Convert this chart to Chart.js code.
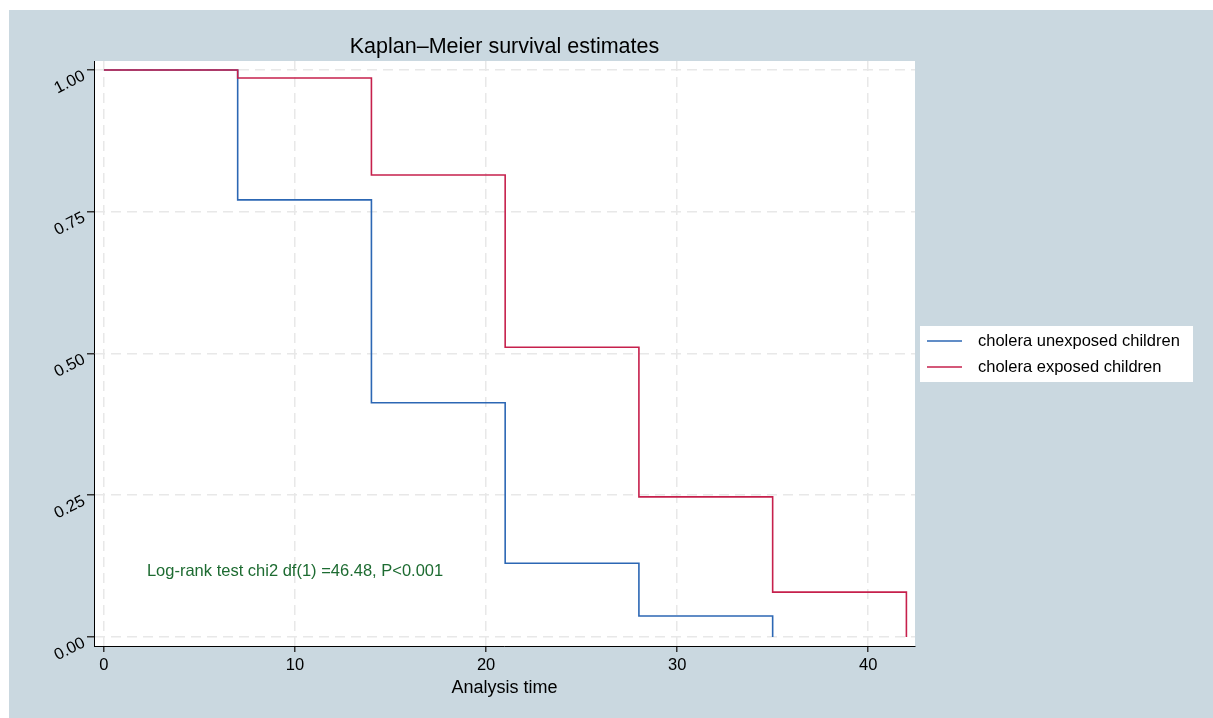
<!DOCTYPE html>
<html>
<head>
<meta charset="utf-8">
<script src="https://cdn.jsdelivr.net/npm/chart.js@4.4.1/dist/chart.umd.min.js"></script>
<style>
  html, body { margin: 0; padding: 0; background: #fff; }
  #wrap { width: 1213px; height: 718px; }
</style>
</head>
<body>
<div id="wrap"><canvas id="km" width="1213" height="718"></canvas></div>
<script>
// survival curves
const unexposedTime = [0, 7, 14, 21, 28, 35];
const unexposedSurv = [1, 0.771, 0.413, 0.130, 0.037, 0];
const exposedTime = [0, 7, 14, 21, 28, 35, 42];
const exposedSurv = [1, 0.986, 0.815, 0.511, 0.247, 0.079, 0];

const xTicks = [0, 10, 20, 30, 40];
const yTicks = [0, 0.25, 0.5, 0.75, 1];
const seriesNames = ['cholera unexposed children', 'cholera exposed children'];
const titleText = 'Kaplan–Meier survival estimates';
const xTitle = 'Analysis time';
const noteText = 'Log-rank test chi2 df(1) =46.48, P<0.001';

const FONT = "'Liberation Sans', Arial, sans-serif";
const BLUE = '#2c67b4';
const RED = '#c6204c';

function toPoints(xs, ys) {
  return xs.map((x, i) => ({ x: x, y: ys[i] }));
}

const backdrop = {
  id: 'backdrop',
  beforeDraw(chart) {
    const { ctx, chartArea: a } = chart;
    ctx.save();
    ctx.fillStyle = '#fff';
    ctx.fillRect(0, 0, chart.width, chart.height);
    ctx.fillStyle = '#cad8e0';
    ctx.fillRect(9, 10, chart.width - 9, chart.height - 10);
    ctx.fillStyle = '#fff';
    ctx.fillRect(a.left, a.top, a.right - a.left, a.bottom - a.top);
    ctx.restore();
  }
};

const extras = {
  id: 'extras',
  afterDraw(chart) {
    const { ctx, chartArea: a, scales } = chart;
    ctx.save();

    // title
    ctx.fillStyle = '#000';
    ctx.font = '21.5px ' + FONT;
    ctx.textAlign = 'center';
    ctx.textBaseline = 'middle';
    ctx.fillText(titleText, (a.left + a.right) / 2, 47);

    // log-rank note
    ctx.fillStyle = '#1d6b31';
    ctx.font = '16.5px ' + FONT;
    ctx.textAlign = 'left';
    ctx.fillText(noteText, scales.x.getPixelForValue(2.25), scales.y.getPixelForValue(0.115));

    // legend box
    ctx.fillStyle = '#fff';
    ctx.fillRect(920, 326, 273, 56);
    const colors = [BLUE, RED];
    ctx.font = '16.5px ' + FONT;
    seriesNames.forEach((name, i) => {
      const y = 341 + i * 26;
      ctx.strokeStyle = colors[i];
      ctx.lineWidth = 1.5;
      ctx.beginPath();
      ctx.moveTo(927, y);
      ctx.lineTo(962, y);
      ctx.stroke();
      ctx.fillStyle = '#000';
      ctx.fillText(name, 978, y);
    });
    ctx.restore();
  }
};

new Chart(document.getElementById('km'), {
  type: 'line',
  data: {
    datasets: [{
      label: seriesNames[0],
      data: toPoints(unexposedTime, unexposedSurv),
      borderColor: BLUE,
      borderWidth: 1.6,
      stepped: 'before',
      pointRadius: 0,
      fill: false,
      order: 1
    }, {
      label: seriesNames[1],
      data: toPoints(exposedTime, exposedSurv),
      borderColor: RED,
      borderWidth: 1.6,
      stepped: 'before',
      pointRadius: 0,
      fill: false,
      order: 0
    }]
  },
  options: {
    responsive: false,
    animation: false,
    devicePixelRatio: 1,
    layout: { padding: { left: 9, top: 61, right: 298, bottom: 0 } },
    plugins: {
      legend: { display: false },
      tooltip: { enabled: false }
    },
    scales: {
      x: {
        type: 'linear',
        min: -0.52,
        max: 42.45,
        afterBuildTicks: s => { s.ticks = xTicks.map(v => ({ value: v })); },
        afterFit: s => { s.height = 72; },
        ticks: {
          color: '#000',
          font: { family: FONT, size: 16.5 },
          padding: 4,
          maxRotation: 0
        },
        grid: {
          color: '#e8e8e8',
          lineWidth: 1.5,
          tickColor: '#333',
          tickLength: 6
        },
        border: { display: true, color: '#000', width: 1, dash: [10, 6] },
        title: {
          display: true,
          text: xTitle,
          color: '#000',
          font: { family: FONT, size: 18 },
          padding: { top: 0, bottom: 19 }
        }
      },
      y: {
        type: 'linear',
        min: -0.016,
        max: 1.016,
        afterBuildTicks: s => { s.ticks = yTicks.map(v => ({ value: v })); },
        afterFit: s => { s.width = 85; },
        ticks: {
          color: '#000',
          font: { family: FONT, size: 16.5 },
          padding: 3,
          labelOffset: 5,
          minRotation: 27,
          maxRotation: 27,
          callback: v => v.toFixed(2)
        },
        grid: {
          color: '#e8e8e8',
          lineWidth: 1.5,
          tickColor: '#333',
          tickLength: 7
        },
        border: { display: true, color: '#000', width: 1, dash: [10, 6] }
      }
    }
  },
  plugins: [backdrop, extras]
});
</script>
</body>
</html>
